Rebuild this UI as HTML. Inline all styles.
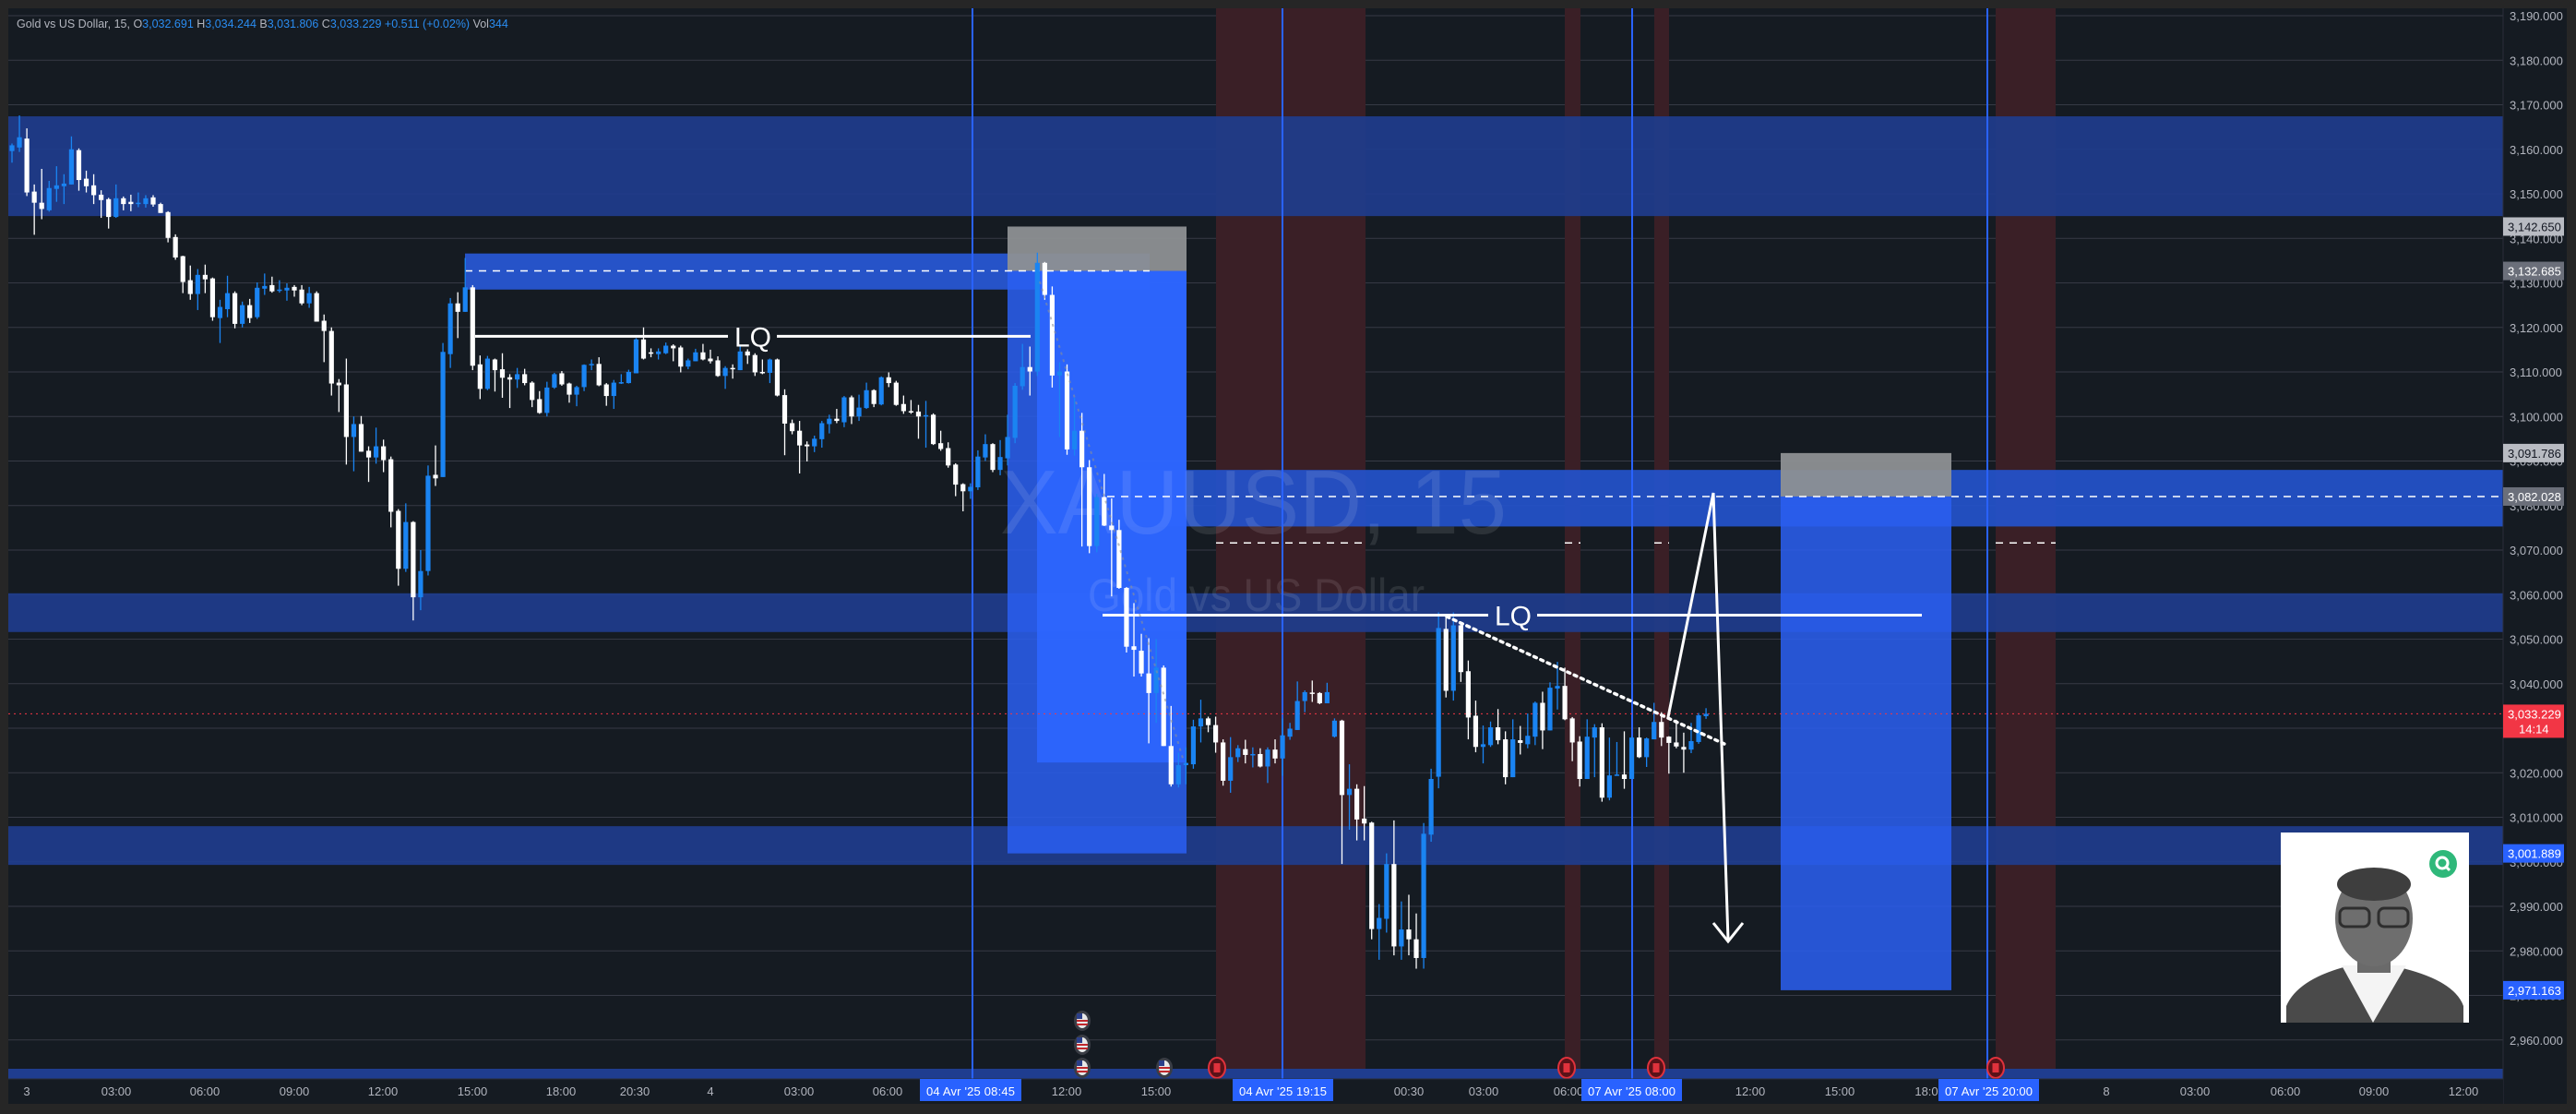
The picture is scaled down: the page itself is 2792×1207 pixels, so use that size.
<!DOCTYPE html>
<html><head><meta charset="utf-8"><title>XAUUSD 15</title>
<style>
html,body{margin:0;padding:0;background:#262626;}
svg{display:block;}
text{font-family:"Liberation Sans",sans-serif;}
.ax{font-family:"Liberation Sans Narrow","Liberation Sans",sans-serif;font-size:13px;fill:#b2b5be;}
</style></head>
<body>
<svg id="chart" width="2792" height="1207" viewBox="0 0 2792 1207" xmlns="http://www.w3.org/2000/svg">
<rect x="0" y="0" width="2792" height="1207" fill="#262626"/>
<rect x="9" y="9" width="2773" height="1187" fill="#151b22"/>
<g id="grid"></g>
<g id="sessions"></g>
<g id="zones"></g>
<g id="watermark">
 <text x="1084" y="578" font-size="98" textLength="549" lengthAdjust="spacingAndGlyphs" fill="#ffffff" fill-opacity="0.1">XAUUSD, 15</text>
 <text x="1179" y="662" font-size="50" textLength="365" lengthAdjust="spacingAndGlyphs" fill="#ffffff" fill-opacity="0.1">Gold vs US Dollar</text>
</g>
<g id="vlines"></g>
<g id="candles"></g>
<g id="drawings"></g>
<g id="events"></g>
<g id="photo">
 <rect x="2472" y="902" width="204" height="206" fill="#ffffff"/>
 <path d="M2478 1108 L2478 1090 Q2490 1062 2540 1048 L2600 1048 Q2660 1062 2670 1090 L2670 1108 Z" fill="#4a4a4a"/>
 <path d="M2538 1046 L2572 1108 L2608 1046 Z" fill="#f4f4f4"/>
 <rect x="2555" y="1030" width="36" height="24" fill="#6a6a6a"/>
 <ellipse cx="2573" cy="995" rx="42" ry="52" fill="#6e6e6e"/>
 <ellipse cx="2573" cy="958" rx="40" ry="18" fill="#3e3e3e"/>
 <rect x="2536" y="984" width="32" height="20" rx="6" fill="none" stroke="#2e2e2e" stroke-width="3"/>
 <rect x="2578" y="984" width="32" height="20" rx="6" fill="none" stroke="#2e2e2e" stroke-width="3"/>
 <circle cx="2648" cy="936" r="15" fill="#2fb87a"/>
 <circle cx="2647" cy="935" r="6" fill="none" stroke="#ffffff" stroke-width="3"/>
 <line x1="2651" y1="939" x2="2655" y2="943" stroke="#ffffff" stroke-width="3"/>
</g>
<rect x="2713" y="9" width="69" height="1187" fill="#151b22"/>
<line x1="2713" y1="9" x2="2713" y2="1196" stroke="#2a2e39" stroke-width="1"/>
<rect x="9" y="1169" width="2704" height="27" fill="#151b22"/>
<line x1="9" y1="1169" x2="2713" y2="1169" stroke="#2a2e39"/>
<g id="yaxis"></g>
<g id="xaxis"></g>
<text x="18" y="30" font-size="12.5" fill="#b2b5be">Gold vs US Dollar, 15,  O<tspan fill="#2a8cf0">3,032.691</tspan>  H<tspan fill="#2a8cf0">3,034.244</tspan>  B<tspan fill="#2a8cf0">3,031.806</tspan>  C<tspan fill="#2a8cf0">3,033.229</tspan>  <tspan fill="#2a8cf0">+0.511 (+0.02%)</tspan>  Vol<tspan fill="#2a8cf0">344</tspan></text>
</svg>
<script>
const opens=[3159.6,3160.4,3162.4,3150.5,3148.0,3146.3,3151.1,3151.7,3152.1,3159.8,3153.4,3151.9,3149.8,3148.8,3144.8,3149.0,3148.2,3147.7,3147.7,3149.2,3147.7,3145.9,3140.3,3136.0,3130.6,3127.5,3131.8,3131.0,3122.1,3124.1,3127.7,3120.8,3125.0,3122.3,3128.7,3129.5,3128.3,3128.3,3129.1,3128.5,3125.4,3127.7,3121.5,3119.2,3107.6,3107.2,3095.4,3098.3,3092.3,3090.8,3093.3,3090.4,3078.8,3065.8,3076.3,3059.4,3065.3,3086.9,3086.4,3114.0,3125.4,
3123.5,3129.0,3111.7,3106.2,3112.8,3110.6,3108.8,3108.3,3109.5,3107.6,3103.9,3100.8,3106.5,3109.7,3107.4,3104.9,3106.6,3111.6,3111.8,3107.2,3104.6,3107.5,3107.5,3109.7,3117.3,3114.4,3114.0,3114.2,3115.9,3115.5,3111.2,3112.4,3114.4,3113.0,3112.6,3109.1,3110.9,3110.4,3114.6,3113.8,3110.0,3109.8,3112.8,3104.8,3098.5,3096.8,3093.7,3093.3,3094.9,3098.3,3099.5,3098.7,3104.3,3100.0,3101.9,3105.9,3102.7,3108.8,3107.6,3102.8,3101.2,3101.1,3100.0,3100.4,3094.0,3092.9,3089.2,3084.8,3083.2,3084.1,3090.8,3093.8,3088.0,3090.6,3095.2,3106.8,3111.1,
3110.1,3134.5,3127.3,3109.2,3110.1,3092.6,3096.8,3088.6,3070.9,3081.9,3075.5,3074.5,3061.5,3048.4,3047.4,3042.3,3037.9,3043.6,3026.0,3017.4,3021.7,3021.9,3030.4,3032.2,3030.7,3026.8,3018.2,3023.5,3025.3,3024.0,3024.2,3021.4,3025.2,3023.2,3028.1,3029.6,3036.1,3038.0,3037.9,3035.6,3028.1,3031.7,3015.0,3016.4,3009.7,3008.8,2984.9,2987.2,2999.5,2981.0,2984.8,2982.6,2978.4,3006.1,3019.1,
3052.3,3038.4,3053.1,3042.8,3032.8,3025.8,3026.2,3030.2,3027.5,3019.0,3027.3,3026.4,3028.1,3035.7,3029.5,3038.9,3039.5,3032.2,3027.0,3018.6,3027.9,3030.2,3014.4,3019.4,3019.6,3018.6,3027.9,3023.5,3027.5,3031.4,3028.1,3026.8,3025.8,3025.2,3026.9,3032.7];
const highs=[3161.3,3167.6,3164.7,3152.1,3155.6,3152.9,3156.2,3154.4,3162.9,3160.2,3155.2,3154.4,3150.8,3149.1,3152.1,3149.4,3149.8,3150.3,3149.7,3149.7,3148.0,3146.1,3140.9,3136.1,3133.9,3133.1,3134.1,3131.2,3126.2,3131.6,3128.1,3125.8,3126.4,3130.1,3132.1,3131.4,3130.6,3129.9,3129.5,3129.5,3129.1,3128.1,3122.9,3120.0,3108.4,3113.0,3100.0,3100.1,3093.3,3097.5,3094.8,3091.0,3079.2,3080.5,3076.5,3070.0,3089.0,3093.5,3116.5,3126.6,3127.9,
3135.6,3129.5,3113.7,3113.6,3113.0,3114.2,3109.5,3110.9,3110.7,3107.9,3105.7,3107.8,3109.8,3110.2,3107.6,3106.9,3111.7,3112.8,3113.3,3107.5,3108.2,3109.5,3110.5,3117.6,3120.0,3115.3,3115.3,3116.6,3116.2,3115.9,3113.0,3115.2,3116.3,3115.0,3113.5,3111.3,3111.7,3115.9,3115.1,3114.2,3112.8,3113.0,3113.0,3106.1,3099.3,3099.0,3094.4,3095.7,3099.0,3100.4,3101.7,3104.6,3104.7,3104.9,3107.6,3106.1,3109.0,3109.9,3108.0,3104.7,3103.7,3102.6,3103.5,3100.7,3096.8,3094.2,3089.5,3085.0,3085.0,3092.4,3096.0,3094.0,3094.7,3100.4,3107.5,3116.3,3115.7,
3136.8,3134.7,3129.2,3112.2,3111.7,3104.2,3100.8,3090.2,3082.6,3087.1,3081.6,3076.8,3061.7,3058.1,3051.2,3050.2,3050.0,3044.1,3035.0,3024.5,3025.7,3031.9,3036.4,3032.6,3032.6,3027.5,3028.0,3026.2,3027.4,3025.7,3025.5,3025.7,3027.5,3032.2,3031.2,3040.5,3038.5,3040.7,3038.1,3040.2,3032.2,3031.9,3021.9,3017.4,3017.0,3009.0,2990.5,3001.9,3009.3,2991.1,2992.6,2988.4,3008.7,3020.9,3056.0,
3055.4,3056.0,3053.4,3045.2,3036.2,3030.6,3031.5,3034.3,3029.3,3032.0,3030.5,3033.3,3036.0,3038.2,3040.3,3044.9,3043.6,3032.5,3028.2,3032.0,3030.9,3031.1,3027.9,3026.9,3029.3,3028.2,3030.2,3027.9,3035.7,3033.6,3028.2,3031.9,3029.0,3031.2,3033.4,3034.5];
const lows=[3157.0,3159.4,3149.5,3140.8,3144.3,3146.0,3148.2,3147.7,3152.1,3150.7,3150.3,3147.7,3144.6,3142.2,3144.6,3146.3,3146.1,3147.0,3146.9,3147.1,3145.7,3139.1,3135.2,3127.7,3126.2,3123.9,3127.7,3121.5,3116.5,3122.3,3119.8,3120.0,3121.0,3121.9,3127.3,3127.8,3127.8,3126.0,3126.9,3125.0,3124.4,3121.3,3112.2,3104.7,3101.0,3089.2,3087.7,3092.1,3085.3,3089.4,3087.5,3075.1,3062.0,3065.1,3054.2,3056.5,3064.3,3084.4,3086.4,3110.9,3117.6,
3123.5,3110.4,3103.9,3105.9,3105.6,3104.2,3101.9,3106.4,3107.0,3102.1,3100.6,3100.0,3106.2,3106.9,3103.1,3102.3,3105.7,3110.4,3106.8,3102.4,3101.7,3107.3,3107.4,3109.7,3112.8,3113.3,3112.8,3114.0,3112.4,3109.9,3110.6,3112.4,3112.6,3111.9,3108.9,3106.2,3108.5,3110.4,3111.8,3109.1,3109.5,3107.5,3104.5,3091.3,3096.0,3087.2,3089.9,3092.0,3093.0,3096.2,3098.5,3097.6,3098.3,3099.0,3101.7,3102.1,3102.5,3106.6,3102.4,3100.6,3100.6,3095.0,3093.0,3093.6,3092.3,3088.5,3082.1,3078.7,3081.5,3083.5,3090.0,3087.5,3086.8,3089.0,3094.0,3106.0,3104.7,
3109.1,3126.2,3106.5,3095.4,3091.4,3091.2,3070.8,3069.3,3069.5,3075.4,3059.6,3061.3,3047.0,3041.6,3041.6,3026.6,3031.2,3026.0,3016.9,3016.7,3017.4,3020.9,3026.8,3029.1,3024.5,3017.1,3015.5,3022.4,3022.1,3021.2,3021.2,3017.7,3022.1,3019.3,3027.4,3029.6,3033.6,3035.9,3035.4,3035.6,3027.9,2999.5,3007.2,3004.8,3004.8,2982.6,2978.0,2984.1,2979.0,2978.0,2979.0,2976.0,2976.0,3004.5,3016.5,
3036.9,3036.2,3040.4,3027.5,3024.6,3022.1,3025.8,3026.4,3017.4,3019.0,3024.1,3025.5,3026.2,3025.3,3029.5,3034.2,3031.8,3022.6,3016.9,3018.6,3019.0,3013.5,3013.8,3019.3,3016.4,3018.6,3023.3,3021.3,3027.5,3026.0,3019.8,3025.5,3020.0,3024.4,3026.5,3032.1];
const closes=[3160.9,3162.7,3150.3,3148.0,3146.6,3151.3,3151.9,3152.3,3160.0,3153.1,3151.7,3149.7,3148.6,3144.8,3149.0,3147.7,3147.7,3148.0,3149.0,3147.6,3145.7,3140.1,3135.7,3130.2,3127.5,3131.8,3130.8,3122.3,3124.6,3127.7,3120.8,3125.0,3122.1,3128.9,3129.3,3128.1,3128.5,3128.9,3128.3,3125.4,3127.7,3121.3,3119.2,3107.4,3107.0,3095.4,3098.3,3092.1,3090.8,3093.3,3090.2,3078.6,3065.8,3076.3,3059.4,3065.3,3086.7,3086.1,3114.5,3125.4,3123.5,
3129.0,3111.4,3106.2,3113.0,3110.4,3108.7,3108.3,3109.5,3107.5,3103.7,3100.8,3106.5,3109.5,3107.2,3104.9,3106.6,3111.6,3111.8,3107.0,3104.6,3107.6,3107.7,3110.0,3117.3,3113.0,3114.2,3114.6,3115.9,3115.3,3111.2,3112.6,3114.4,3112.8,3112.4,3109.1,3110.9,3110.6,3114.6,3113.7,3109.9,3109.8,3112.8,3104.7,3098.4,3096.7,3093.5,3093.3,3095.0,3098.5,3099.5,3099.0,3104.3,3100.0,3102.0,3105.9,3102.8,3108.8,3107.5,3102.6,3101.2,3100.9,3100.0,3100.3,3093.8,3092.7,3089.0,3084.7,3083.2,3084.2,3091.0,3093.8,3088.0,3090.9,3095.4,3106.9,3111.1,3110.1,
3134.5,3127.3,3109.2,3110.1,3092.6,3096.8,3088.6,3070.9,3081.9,3075.5,3074.5,3061.5,3048.3,3047.6,3042.3,3037.9,3043.6,3026.0,3017.4,3021.7,3022.2,3030.4,3032.2,3030.7,3026.8,3018.2,3023.5,3025.5,3024.0,3024.2,3021.4,3025.2,3023.2,3028.4,3029.9,3036.1,3038.1,3037.8,3035.6,3038.1,3031.7,3015.0,3016.4,3009.5,3008.6,2984.9,2987.4,2999.5,2981.0,2984.8,2982.6,2978.4,3006.3,3018.6,3052.5,
3038.4,3053.1,3042.6,3032.4,3025.8,3026.4,3030.2,3027.3,3019.0,3027.5,3026.7,3028.3,3035.7,3029.5,3039.1,3039.5,3032.0,3026.8,3018.6,3028.1,3030.2,3014.4,3019.4,3019.6,3018.6,3027.9,3023.5,3027.7,3031.4,3027.9,3026.7,3025.9,3025.2,3027.1,3032.9,3033.229];
const priceTicks=[3190,3180,3170,3160,3150,3140,3130,3120,3110,3100,3090,3080,3070,3060,3050,3040,3030,3020,3010,3000,2990,2980,2970,2960];
const timeLabels=["3","03:00","06:00","09:00","12:00","15:00","18:00","20:30","4","03:00","06:00","12:00","15:00","00:30","03:00","06:00","12:00","15:00","18:0","8","03:00","06:00","09:00","12:00"];
const timeLabelX=[29,126,222,319,415,512,608,688,770,866,962,1156,1253,1527,1608,1700,1897,1994,2088,2283,2379,2477,2573,2670];
const markedPrices=[3142.650,3132.685,3091.786,3082.028,3033.229,3001.889,2971.163];
const markedKinds=["light","dark","light","dark","red","blue","blue"];

const NS="http://www.w3.org/2000/svg";
const X0=13, STEP=8.053;
function xScale(i){return X0+i*STEP;}
function yScale(p){return 17+(3190-p)*4.825;}
function mk(tag,attrs,parent){const e=document.createElementNS(NS,tag);for(const k in attrs)e.setAttribute(k,attrs[k]);parent.appendChild(e);return e;}

const grid=document.getElementById('grid');
priceTicks.forEach(p=>{const l=mk('line',{x1:9,x2:2713,y1:yScale(p),y2:yScale(p),stroke:'#363a45','stroke-width':1},grid);

});

const ses=document.getElementById('sessions');
[[1318,1480],[1696,1713],[1793,1809],[2163,2228]].forEach(s=>{const r=mk('rect',{x:s[0],y:9,width:s[1]-s[0],height:1160,fill:'#3a1f26'},ses);

});

const zones=document.getElementById('zones');
function band(x1,x2,p1,p2,fill,op,name){const r=mk('rect',{x:x1,y:yScale(p1),width:x2-x1,height:yScale(p2)-yScale(p1),fill:fill,'fill-opacity':op},zones);

return r;}
band(9,2713,3167.4,3145.0,'#1f3d8f',0.9,'supply-zone-top');
band(9,2713,3060.3,3051.6,'#1f3d8f',0.9,'demand-zone-mid');
band(9,2713,3008.0,2999.3,'#1f3d8f',0.9,'demand-zone-low');
const strip=mk('rect',{x:9,y:1158,width:2704,height:11,fill:'#1f3d8f'},zones);


band(504,1246,3136.6,3128.5,'#2653c8',1,'supply-zone-b');
band(1200,2713,3088.0,3075.3,'#2452cc',0.92,'supply-zone-c');
band(1092,1286,3142.65,3132.685,'#8d9094',0.95,'short1-stop');
band(1092,1286,3132.685,3001.889,'#2a5ff2',0.85,'short1-target');
band(1124,1286,3132.685,3022.3,'#2d66ff',0.9,'short1-inner');
band(1930,2115,3091.786,3082.028,'#8d9094',0.95,'short2-stop');
band(1930,2115,3082.028,2971.163,'#2a5ff2',0.85,'short2-target');
function dash(x1,x2,p,name,color){const l=mk('line',{x1:x1,x2:x2,y1:yScale(p),y2:yScale(p),stroke:color||'#ffffff','stroke-width':1.5,'stroke-dasharray':'8 7'},zones);

}
dash(504,1246,3132.685,'zone-b-midline');
dash(1200,2713,3082.028,'zone-c-midline');
[[1318,1480],[1696,1713],[1793,1809],[2163,2228]].forEach(s=>dash(s[0],s[1],3071.6,'session-level'));

const vl=document.getElementById('vlines');
[1054,1390,1769,2154].forEach(x=>{const l=mk('line',{x1:x,x2:x,y1:9,y2:1169,stroke:'#2962ff','stroke-width':2},vl);

});
const cp=mk('line',{x1:9,x2:2713,y1:yScale(3033.229),y2:yScale(3033.229),stroke:'#f23645','stroke-width':1,'stroke-dasharray':'2 4'},vl);



const cg=document.getElementById('candles');
for(let i=0;i<closes.length;i++){
 const x=xScale(i), o=opens[i], c=closes[i], up=c>=o, col=up?'#1a84f2':'#ffffff';
 const w=mk('line',{x1:x,x2:x,y1:yScale(highs[i]),y2:yScale(lows[i]),stroke:col,'stroke-width':1.3},cg);
 
 
 const top=yScale(Math.max(o,c)), bot=yScale(Math.min(o,c));
 const b=mk('rect',{x:x-2.6,y:top,width:5.2,height:Math.max(1.5,bot-top),fill:col},cg);
 
 
}

const dr=document.getElementById('drawings');
function line(x1,y1,x2,y2,name,extra){const a={x1:x1,y1:y1,x2:x2,y2:y2,stroke:'#ffffff','stroke-width':3};Object.assign(a,extra||{});const l=mk('line',a,dr);

return l;}
const lq1=yScale(3118.0), lq2=yScale(3055.4);
line(515,lq1,789,lq1,'lq1-line-left');
line(842,lq1,1117,lq1,'lq1-line-right');
line(1195,lq2,1613,lq2,'lq2-line-left');
line(1666,lq2,2083,lq2,'lq2-line-right');
let t=mk('text',{x:796,y:lq1+11,'font-size':30,fill:'#ffffff'},dr);t.textContent='LQ';


t=mk('text',{x:1620,y:lq2+11,'font-size':30,fill:'#ffffff'},dr);t.textContent='LQ';


line(1568,668,1871,807,'trendline-dotted',{'stroke-width':3.5,'stroke-dasharray':'3 5','stroke-linecap':'round'});
line(1127,305,1283,825,'trendline-faint',{'stroke-width':2,'stroke-dasharray':'3 5',stroke:'#8a8f9a','stroke-opacity':0.6});
const ar=mk('polyline',{points:'1808,777 1857,534 1873,1018',fill:'none',stroke:'#ffffff','stroke-width':3},dr);


const ah=mk('polyline',{points:'1857,1000 1873,1020 1889,1000',fill:'none',stroke:'#ffffff','stroke-width':3},dr);



const ev=document.getElementById('events');
function flag(x,y){const g=mk('g',{},ev);


mk('ellipse',{cx:x,cy:y,rx:9,ry:11,fill:'#3a3d45'},g);
mk('ellipse',{cx:x,cy:y,rx:6,ry:8,fill:'#e8e8e8'},g);
mk('rect',{x:x-6,y:y-1,width:12,height:2,fill:'#c0282d'},g);
mk('rect',{x:x-6,y:y+3,width:12,height:2,fill:'#c0282d'},g);
mk('rect',{x:x-6,y:y-8,width:6,height:6,fill:'#2b3f8a'},g);}
flag(1173,1106);flag(1173,1132);flag(1173,1157);flag(1262,1157);
[1319,1698,1795,2163].forEach(x=>{const g=mk('g',{},ev);


mk('ellipse',{cx:x,cy:1157,rx:9,ry:11,fill:'#5a1218',stroke:'#e0323c','stroke-width':2},g);
mk('rect',{x:x-3.5,y:1152,width:7,height:10,fill:'#e0323c'},g);});

const ya=document.getElementById('yaxis');
priceTicks.forEach(p=>{const e=mk('text',{x:2720,y:yScale(p)+5,class:'ax'},ya);
e.textContent=p.toLocaleString('en-US',{minimumFractionDigits:3});

});
const kindFill={light:'#b8bbc2',dark:'#6b6f7a',red:'#f23645',blue:'#2962ff'};
const kindText={light:'#131722',dark:'#ffffff',red:'#ffffff',blue:'#ffffff'};
markedPrices.forEach((p,i)=>{const k=markedKinds[i], y=yScale(p);
 const h=k==='red'?36:20;
 const r=mk('rect',{x:2713,y:y-10,width:66,height:h,fill:kindFill[k]},ya);
 
 
 const e=mk('text',{x:2718,y:y+5,class:'ax',style:'fill:'+kindText[k]},ya);
 e.textContent=p.toLocaleString('en-US',{minimumFractionDigits:3});
 
 
 if(k==='red'){const c=mk('text',{x:2730,y:y+21,class:'ax',style:'fill:#ffffff'},ya);c.textContent='14:14';
 
 }
});

const xa=document.getElementById('xaxis');
timeLabels.forEach((s,i)=>{const e=mk('text',{x:timeLabelX[i],y:1187,class:'ax','text-anchor':'middle'},xa);e.textContent=s;

});
[[997,1107,"04 Avr '25   08:45"],[1336,1445,"04 Avr '25   19:15"],[1714,1823,"07 Avr '25   08:00"],[2101,2210,"07 Avr '25   20:00"]].forEach(b=>{
 const r=mk('rect',{x:b[0],y:1169,width:b[1]-b[0],height:24,fill:'#2962ff'},xa);
 
 
 const e=mk('text',{x:(b[0]+b[1])/2,y:1187,class:'ax','text-anchor':'middle',style:'fill:#ffffff',textLength:b[1]-b[0]-14},xa);e.textContent=b[2];
 
 });
</script>
</body></html>
